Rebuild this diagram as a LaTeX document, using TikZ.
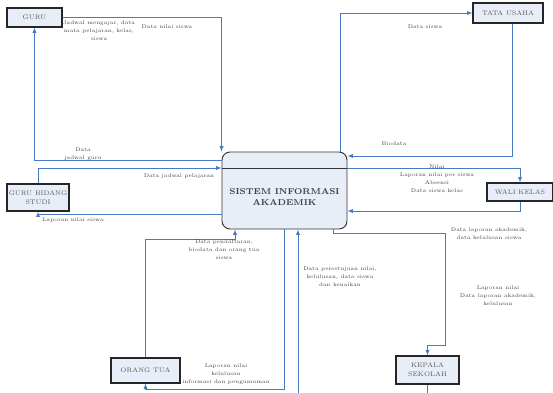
\documentclass[tikz,border=0pt]{standalone}
\usepackage[]{color}
\usepackage{tikz}
\usetikzlibrary{arrows,positioning}
\definecolor{flowblue}{RGB}{72,122,196}
\definecolor{boxfill}{RGB}{232,238,248}
\tikzstyle{entity}=[draw=black!85,fill=boxfill,line width=0.9pt,inner sep=0pt,align=center,font=\fontsize{5.6}{7.5}\selectfont,text=black!65]
\tikzstyle{proses}=[draw=black!80,fill=boxfill,line width=0.8pt,rounded corners=2.4mm,minimum width=37.5mm,minimum height=23.1mm]
\tikzstyle{flow}=[draw=flowblue,line width=0.6pt,->,>=latex]
\tikzstyle{lbl}=[inner sep=0pt,align=center,font=\fontsize{4.5}{6.8}\selectfont,text=black!75]

\begin{document}
\begin{tikzpicture}[x=0.3mm,y=-0.3mm]
        \useasboundingbox (0,0) rectangle (553,392);
        % proses utama dan entitas luar
        \node (sia) at (284.5,190.5) [proses] {};
        \draw[draw=black!80,line width=0.6pt] ([yshift=6.75mm]sia.west) -- ([yshift=6.75mm]sia.east);
        \node (siatext) at (284.5,197) [align=center,font=\fontsize{7.3}{9.5}\selectfont\bfseries,text=black!75] {SISTEM INFORMASI\\AKADEMIK};
        \node (guru) at (34.5,17.5) [entity,minimum width=16.5mm,minimum height=5.7mm] {GURU};
        \node (tu) at (508,13) [entity,minimum width=21mm,minimum height=6mm] {TATA USAHA};
        \node (gbs) at (38,197.5) [entity,minimum width=18.6mm,minimum height=8.1mm] {GURU BIDANG\\STUDI};
        \node (wali) at (520,192) [entity,minimum width=19.8mm,minimum height=5.4mm] {WALI KELAS};
        \node (ortu) at (145.5,370.5) [entity,minimum width=20.7mm,minimum height=7.5mm] {ORANG TUA};
        \node (kepsek) at (427.5,370) [entity,minimum width=18.9mm,minimum height=8.4mm] {KEPALA\\SEKOLAH};
        % aliran data
        \draw[flow] (guru.east) -| (sia.north west);
        \draw[flow] ([yshift=9.15mm]sia.west) -| (guru.south);
        \draw[flow] (gbs.north) |- ([yshift=6.75mm]sia.west);
        \draw[flow] ([yshift=-7.05mm]sia.west) -| (gbs.south);
        \draw[flow] ([xshift=-2.1mm]sia.north east) |- (tu.west);
        \draw[flow] ([xshift=1.2mm]tu.south) |- ([yshift=10.35mm]sia.east);
        \draw[flow] ([yshift=6.75mm]sia.east) -| (wali.north);
        \draw[flow] (wali.south) |- ([yshift=-6.15mm]sia.east);
        \draw[flow] ([xshift=14.55mm]sia.south) -- ++(0,4) -| (445,345) -| (kepsek.north);
        \draw[flow] (kepsek.south) -- ++(0,14) -| ([xshift=4.05mm]sia.south);
        \draw[flow] (sia.south) -- ++(0,160) -| (ortu.south);
        \draw[flow] (ortu.north) -- ++(0,-118) -| ([xshift=-14.85mm]sia.south);
        % keterangan aliran
        \node (l1) at (99,31) [lbl] {Jadwal mengajar, data\\mata pelajaran, kelas,\\siswa};
        \node (l2) at (167,27) [lbl] {Data nilai siswa};
        \node (l3) at (83,154) [lbl] {Data\\jadwal guru};
        \node (l4) at (179,176) [lbl] {Data jadwal pelajaran};
        \node (l5) at (73,220) [lbl] {Laporan nilai siswa};
        \node (l6) at (425,27) [lbl] {Data siswa};
        \node (l7) at (394,144) [lbl] {Biodata};
        \node (l8) at (437,179) [lbl] {Nilai\\Laporan nilai per siswa\\Absensi\\Data siswa kelas};
        \node (l9) at (489,234) [lbl] {Data laporan akademik,\\data kelulusan siswa};
        \node (l10) at (498,296) [lbl] {Laporan nilai\\Data laporan akademik,\\kelulusan};
        \node (l11) at (340,277) [lbl] {Data persetujuan nilai,\\kelulusan, data siswa\\dan kenaikan};
        \node (l12) at (224,250) [lbl] {Data pendaftaran,\\biodata dan orang tua\\siswa};
        \node (l13) at (226,374) [lbl] {Laporan nilai\\kelulusan\\informasi dan pengumuman};
\end{tikzpicture}
\end{document}
